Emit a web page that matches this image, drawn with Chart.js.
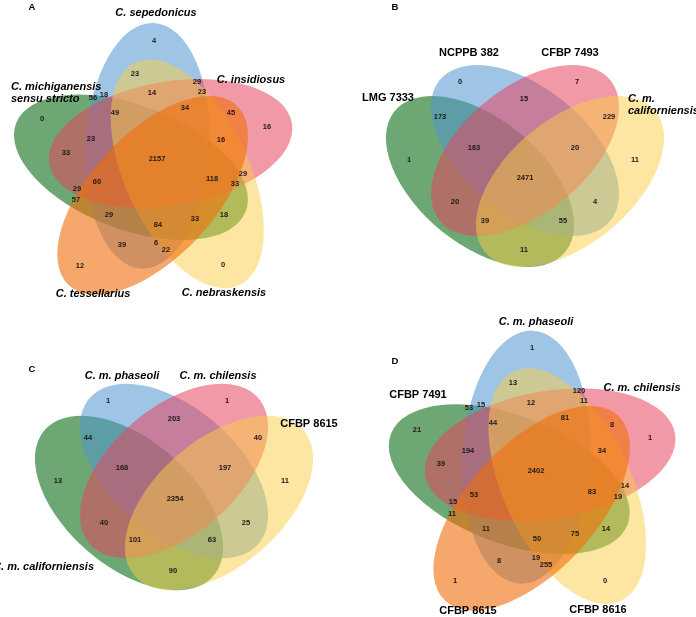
<!DOCTYPE html>
<html><head><meta charset="utf-8">
<script src="https://cdn.jsdelivr.net/npm/chart.js@4.4.0/dist/chart.umd.min.js"></script>
<style>html,body{margin:0;padding:0;background:#fff;}#wrap{width:696px;height:617px;position:relative;}</style>
</head><body><div id="wrap"><canvas id="c" width="696" height="617"></canvas></div>
<script>
// ---------------- DATA ----------------
const panelLetters = ['A','B','C','D'];
const setsA = ['C. sepedonicus','C. insidiosus','C. nebraskensis','C. tessellarius','C. michiganensis\nsensu stricto'];
const setsB = ['NCPPB 382','CFBP 7493','LMG 7333','C. m.\ncaliforniensis'];
const setsC = ['C. m. phaseoli','C. m. chilensis','CFBP 8615','C. m. californiensis'];
const setsD = ['C. m. phaseoli','C. m. chilensis','CFBP 8616','CFBP 8615','CFBP 7491'];
const countsA = [4,23,29,23,14,56,18,0,49,34,45,16,23,33,16,2157,29,118,33,60,29,57,29,84,33,18,39,6,22,12,0];
const countsB = [0,7,15,173,229,163,20,1,11,2471,20,4,39,55,11];
const countsC = [1,1,203,44,40,168,197,13,11,2354,40,25,101,63,90];
const countsD = [1,13,120,11,12,53,15,21,44,81,8,1,194,39,34,2402,14,83,19,53,15,11,11,50,75,14,8,19,255,1,0];

// ---------------- LAYOUT (positions only) ----------------
const posA = [[154,41],[135,74],[197,82],[202,92],[152,93],[93,98],[104,95],[42,119],[115,113],[185,108],[231,113],[267,127],[91,139],[66,153],[221,140],[157,159],[243,174],[212,179],[235,184],[97,182],[77,189],[76,200],[109,215],[158,225],[195,219],[224,215],[122,245],[156,243],[166,250],[80,266],[223,265]];
const posB = [[460,82],[577,82],[524,99],[440,117],[609,117],[474,148],[575,148],[409,160],[635,160],[525,178],[455,202],[595,202],[485,221],[563,221],[524,250]];
const posC = [[108,401],[227,401],[174,419],[88,438],[258,438],[122,468],[225,468],[58,481],[285,481],[175,499],[104,523],[246,523],[135,540],[212,540],[173,571]];
const posD = [[532,348],[513,383],[579,391],[584,401],[531,403],[469,408],[481,405],[417,430],[493,423],[565,418],[612,425],[650,438],[468,451],[441,464],[602,451],[536,471],[625,486],[592,492],[618,497],[474,495],[453,502],[452,514],[486,529],[537,539],[575,534],[606,529],[499,561],[536,558],[546,565],[455,581],[605,581]];
// name label layout: [x, y, align, italic]
const nameLayA = [[156,13,'center',1],[251,80,'center',1],[224,293,'center',1],[93,294,'center',1],[11,87,'left',1]];
const nameLayB = [[469,53,'center',0],[570,53,'center',0],[388,98,'center',0],[628,99,'left',1]];
const nameLayC = [[122,376,'center',1],[218,376,'center',1],[309,424,'center',0],[94,567,'right',1]];
const nameLayD = [[536,322,'center',1],[642,388,'center',1],[598,610,'center',0],[468,611,'center',0],[418,395,'center',0]];
const letterPos = [[32,7],[395,7],[32,369],[395,361]];

const COL = {
  blue:'rgba(80,150,210,0.55)', pink:'rgba(230,70,95,0.55)', yellow:'rgba(250,205,70,0.5)',
  orange:'rgba(240,110,10,0.6)', green:'rgba(30,120,40,0.65)'
};
const deg = Math.PI/180;
// five congruent ellipses; k: 0 top, 1 right, 2 bottom-right, 3 bottom-left, 4 left
function five(cx, cy, s){
  const cols = [COL.blue, COL.pink, COL.yellow, COL.orange, COL.green];
  const off = [3, 8.5, 11, 7, 3];
  const out = [];
  [4,0,1,2,3].forEach(k=>{
    const th = (-90 + 72*k)*deg, al = th + off[k]*deg;
    const tx = cx + s*145*Math.cos(th), ty = cy + s*145*Math.sin(th);
    out.push({cx: tx - s*123*Math.cos(al), cy: ty - s*123*Math.sin(al), sx:s, sy:s, a:123, b:62, rot: al, color: cols[k]});
  });
  return out;
}
function four(cx0, cy0, U, V, dx, dy){
  const def = [[-dx,dy,45,COL.green],[0,0,45,COL.blue],[0,0,-45,COL.pink],[dx,dy,-45,COL.yellow]];
  return def.map(d=>({cx: cx0+d[0], cy: cy0+d[1], sx:U, sy:V, a:0.35, b:0.2, rot:d[2]*deg, color:d[3]}));
}
const shapes = [].concat(five(154,168,1), four(525,150.5,330,300,45,31), four(174,471,330,306,45,32), five(533,480,1.03));
const panelSets = [setsA, setsB, setsC, setsD];
const panelNameLay = [nameLayA, nameLayB, nameLayC, nameLayD];

const vennPlugin = {
  id:'venn',
  beforeDatasetsDraw(chart){
    const {ctx, scales:{x,y}} = chart;
    const kx = x.getPixelForValue(1)-x.getPixelForValue(0), ky = y.getPixelForValue(1)-y.getPixelForValue(0);
    shapes.forEach(sh=>{
      ctx.save();
      ctx.translate(x.getPixelForValue(sh.cx), y.getPixelForValue(sh.cy));
      ctx.scale(sh.sx*kx, sh.sy*ky);
      ctx.rotate(sh.rot);
      ctx.beginPath(); ctx.ellipse(0,0,sh.a,sh.b,0,0,Math.PI*2);
      ctx.fillStyle = sh.color; ctx.fill();
      ctx.restore();
    });
  },
  afterDatasetsDraw(chart){
    const {ctx, scales:{x,y}} = chart;
    ctx.save();
    ctx.textBaseline = 'middle';
    ctx.fillStyle = '#1e1a16';
    ctx.font = "bold 7.5px 'Liberation Sans', Arial, sans-serif";
    ctx.textAlign = 'center';
    chart.data.datasets.forEach((ds,di)=>{
      const meta = chart.getDatasetMeta(di);
      meta.data.forEach((el,i)=>{ ctx.fillText(String(ds.data[i].v), el.x, el.y); });
    });
    ctx.fillStyle = '#000';
    panelSets.forEach((sets,pi)=>{
      sets.forEach((name,i)=>{
        const L = panelNameLay[pi][i];
        ctx.font = (L[3]?'italic ':'') + "bold 11px 'Liberation Sans', Arial, sans-serif";
        ctx.textAlign = L[2];
        name.split('\n').forEach((line,li)=>{
          ctx.fillText(line, x.getPixelForValue(L[0]), y.getPixelForValue(L[1]+li*12.3));
        });
      });
    });
    ctx.font = "bold 9.5px 'Liberation Sans', Arial, sans-serif";
    ctx.textAlign = 'center';
    panelLetters.forEach((l,i)=>ctx.fillText(l, x.getPixelForValue(letterPos[i][0]), y.getPixelForValue(letterPos[i][1])));
    ctx.restore();
  }
};

const mk = (counts,pos)=>({data: counts.map((v,i)=>({x:pos[i][0], y:pos[i][1], v})), pointRadius:0, pointHoverRadius:0, showLine:false});
new Chart(document.getElementById('c'), {
  type:'scatter',
  data:{datasets:[mk(countsA,posA), mk(countsB,posB), mk(countsC,posC), mk(countsD,posD)]},
  options:{
    responsive:false, animation:false, events:[],
    layout:{padding:0},
    plugins:{legend:{display:false}, tooltip:{enabled:false}},
    scales:{
      x:{type:'linear', min:0, max:696, display:false},
      y:{type:'linear', min:0, max:617, reverse:true, display:false}
    }
  },
  plugins:[vennPlugin]
});
</script></body></html>
